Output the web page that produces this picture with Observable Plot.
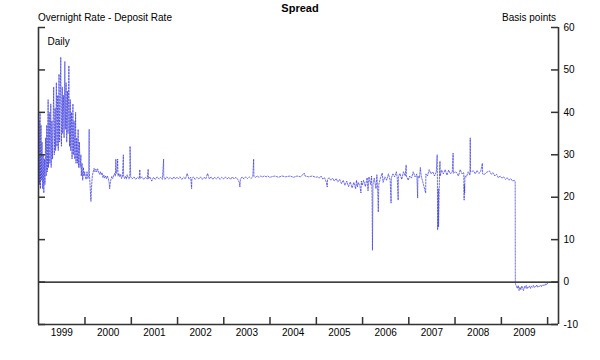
<!DOCTYPE html>
<html><head><meta charset="utf-8">
<script src="https://cdn.jsdelivr.net/npm/d3@7"></script>
<script src="https://cdn.jsdelivr.net/npm/@observablehq/plot@0.6"></script>
<style>
body{margin:0;background:#fff;font-family:"Liberation Sans",Arial,sans-serif;}
#wrap{position:relative;width:600px;height:360px;}
.t{position:absolute;white-space:nowrap;color:#000;line-height:12px;}
</style></head><body>
<div id="wrap">
<div id="chart"></div>
<div class="t" style="left:0;width:600px;top:2px;text-align:center;font-weight:bold;font-size:11px">Spread</div>
<div class="t" style="left:38px;top:12px;font-size:10px">Overnight Rate - Deposit Rate</div>
<div class="t" style="right:44px;top:12px;font-size:10px">Basis points</div>
</div>
<script>
// Overnight rate minus deposit rate, basis points
const y1999 = [
["1999-01-04",38],["1999-01-07",23],["1999-01-11",40],["1999-01-14",22],["1999-01-19",37],["1999-01-22",24],
["1999-01-27",33],["1999-02-01",22],["1999-02-05",30],["1999-02-10",21],["1999-02-15",29],["1999-02-19",23],
["1999-02-24",34],["1999-03-01",25],["1999-03-05",37],["1999-03-10",26],["1999-03-16",43],["1999-03-19",27],
["1999-03-25",40],["1999-03-30",28],["1999-04-06",42],["1999-04-09",27],["1999-04-15",38],["1999-04-20",29],
["1999-04-29",46],["1999-05-04",30],["1999-05-10",41],["1999-05-14",31],["1999-05-20",47],["1999-05-25",32],
["1999-05-31",44],["1999-06-04",31],["1999-06-10",49],["1999-06-15",33],["1999-06-24",53],["1999-06-29",32],
["1999-07-06",46],["1999-07-09",35],["1999-07-15",44],["1999-07-20",34],["1999-07-26",52],["1999-07-30",36],
["1999-08-05",47],["1999-08-10",33],["1999-08-16",45],["1999-08-20",35],["1999-08-27",51],["1999-09-01",32],
["1999-09-07",43],["1999-09-10",31],["1999-09-16",40],["1999-09-21",29],["1999-09-28",42],["1999-10-01",30],
["1999-10-07",38],["1999-10-13",29],["1999-10-19",40],["1999-10-22",28],["1999-10-28",34],["1999-11-02",28],
["1999-11-08",36],["1999-11-12",27],["1999-11-18",33],["1999-11-23",27],["1999-11-30",30],["1999-12-03",25],
["1999-12-09",28],["1999-12-14",24],["1999-12-20",27],["1999-12-24",25],["1999-12-30",26]];
const y2000 = [
["2000-01-03",25],["2000-01-10",24.2],["2000-01-17",26],["2000-01-24",24.4],["2000-01-31",25],["2000-02-03",36],
["2000-02-04",26],["2000-02-10",23],["2000-02-17",19],["2000-02-21",22],["2000-02-28",25],["2000-03-06",26],
["2000-03-13",26.8],["2000-03-20",26],["2000-03-27",26.6],["2000-04-03",26],["2000-04-10",26.7],["2000-04-17",26],
["2000-04-24",25.4],["2000-05-01",26],["2000-05-08",25.3],["2000-05-15",25.8],["2000-05-22",24.6],["2000-05-29",25.2],
["2000-06-05",24.5],["2000-06-12",25],["2000-06-19",24.4],["2000-06-26",25],["2000-07-03",24.4],["2000-07-10",23.4],
["2000-07-14",22],["2000-07-18",23.2],["2000-07-24",24.2],["2000-07-31",24.9],["2000-08-07",24.4],["2000-08-14",25],
["2000-08-21",25.6],["2000-08-28",25],["2000-09-01",29],["2000-09-04",25.6],["2000-09-11",26.4],["2000-09-15",29],
["2000-09-18",25],["2000-09-25",25.6],["2000-10-02",24.8],["2000-10-09",25.4],["2000-10-16",24.4],["2000-10-23",25],
["2000-10-30",30],["2000-11-01",25],["2000-11-08",24.4],["2000-11-15",24.9],["2000-11-22",24.3],["2000-11-29",25.3],
["2000-12-06",24.7],["2000-12-13",24.3],["2000-12-20",24.9],["2000-12-22",32],["2000-12-27",24.8]];
const y2001 = [
["2001-01-08",24.3],["2001-01-22",24.8],["2001-02-05",24.2],["2001-02-19",24.7],["2001-03-05",24.3],["2001-03-09",26.5],
["2001-03-12",24.4],["2001-03-26",24.8],["2001-04-09",24.2],["2001-04-23",24.7],["2001-05-07",24.3],["2001-05-14",26.6],
["2001-05-16",24.3],["2001-05-28",24.8],["2001-06-11",23.8],["2001-06-25",24.7],["2001-07-09",24.2],["2001-07-23",24.8],
["2001-08-06",24.3],["2001-08-20",24.7],["2001-09-03",24.2],["2001-09-13",29],["2001-09-14",24.8],["2001-09-24",24.2],
["2001-10-08",24.8],["2001-10-22",24.3],["2001-11-05",24.7],["2001-11-19",24.2],["2001-12-03",24.8],["2001-12-17",24.3],
["2001-12-27",24.7]];
const y2002 = [
["2002-01-07",24.3],["2002-01-21",24.8],["2002-02-04",24.2],["2002-02-18",24.7],["2002-03-04",24.3],["2002-03-18",25.6],
["2002-04-01",24.3],["2002-04-15",24.7],["2002-04-22",22],["2002-04-24",24.3],["2002-05-06",24.8],["2002-05-20",24.2],
["2002-06-03",24.7],["2002-06-17",24.3],["2002-07-01",24.8],["2002-07-15",24.2],["2002-07-29",24.7],["2002-08-12",24.3],
["2002-08-26",25.6],["2002-09-09",24.3],["2002-09-23",24.8],["2002-10-07",24.2],["2002-10-21",24.7],["2002-11-04",24.3],
["2002-11-18",24.8],["2002-12-02",24.2],["2002-12-16",24.7],["2002-12-30",24.3]];
const y2003 = [
["2003-01-13",24.8],["2003-01-27",24.3],["2003-02-10",24.7],["2003-02-24",24.2],["2003-03-10",24.8],["2003-03-24",24.3],
["2003-04-07",24.7],["2003-04-21",24.2],["2003-05-05",23.4],["2003-05-08",22.4],["2003-05-12",24.2],["2003-05-26",24.8],
["2003-06-09",24.3],["2003-06-23",24.8],["2003-07-07",24.4],["2003-07-21",24.8],["2003-08-04",24.4],["2003-08-18",24.8],
["2003-08-25",29],["2003-08-27",24.9],["2003-09-08",24.7],["2003-09-22",25],["2003-10-06",24.7],["2003-10-20",25],
["2003-11-03",24.8],["2003-11-17",25],["2003-12-01",24.8],["2003-12-15",25],["2003-12-29",24.7]];
const y2004 = [
["2004-01-12",24.8],["2004-02-09",25],["2004-03-08",24.7],["2004-04-05",25],["2004-05-03",24.8],["2004-06-07",25],
["2004-07-05",24.7],["2004-08-02",25],["2004-08-30",24.8],["2004-09-27",25.7],["2004-10-04",25],["2004-11-01",24.8],
["2004-11-29",25],["2004-12-27",24.7]];
const y2005 = [
["2005-01-10",24.8],["2005-01-24",24.5],["2005-02-07",25],["2005-02-21",24.3],["2005-03-07",24.6],["2005-03-21",23.5],
["2005-03-28",22.4],["2005-03-30",24.2],["2005-04-11",24.6],["2005-04-25",24],["2005-05-09",24.5],["2005-05-23",23.8],
["2005-06-06",24.4],["2005-06-20",23.6],["2005-07-04",24.2],["2005-07-18",23.2],["2005-08-01",24],["2005-08-15",22.8],
["2005-08-29",23.8],["2005-09-12",22.5],["2005-09-26",23.6],["2005-10-10",22.2],["2005-10-24",23.5],["2005-11-07",22],
["2005-11-14",24],["2005-11-21",22.4],["2005-11-28",23.5],["2005-12-12",22.5],["2005-12-19",21],["2005-12-22",23.8],
["2005-12-29",22.8]];
const y2006 = [
["2006-01-09",24],["2006-01-23",22.5],["2006-02-06",24.6],["2006-02-13",21.5],["2006-02-20",24.8],["2006-03-06",23],
["2006-03-13",25],["2006-03-17",20],["2006-03-20",7.5],["2006-03-22",15],["2006-03-24",23],["2006-04-03",24.5],
["2006-04-17",22],["2006-04-24",25.3],["2006-05-01",21],["2006-05-05",16.5],["2006-05-09",23],["2006-05-22",24.5],
["2006-06-05",25.7],["2006-06-12",23.5],["2006-06-26",24.8],["2006-07-10",24],["2006-07-24",25.5],["2006-08-07",24],
["2006-08-14",18.6],["2006-08-16",24.5],["2006-08-28",25.5],["2006-09-11",24.8],["2006-09-25",26],["2006-10-02",24.5],
["2006-10-09",19.3],["2006-10-11",24.8],["2006-10-23",25.6],["2006-11-06",24.2],["2006-11-20",26],["2006-12-04",25],
["2006-12-11",27.6],["2006-12-13",25],["2006-12-27",24]];
const y2007 = [
["2007-01-08",25],["2007-01-22",24.5],["2007-02-05",26],["2007-02-19",24.8],["2007-03-05",25.5],["2007-03-12",19.8],
["2007-03-14",25],["2007-03-26",24.5],["2007-04-02",27],["2007-04-09",25],["2007-05-14",21],["2007-05-16",25.5],
["2007-05-28",25],["2007-06-11",26.5],["2007-06-25",25.5],["2007-07-09",26],["2007-07-23",25],["2007-08-06",26],
["2007-08-13",30],["2007-08-15",24],["2007-08-16",14],["2007-08-17",12.3],["2007-08-20",16],["2007-08-22",22],
["2007-08-24",13],["2007-08-28",20],["2007-08-31",25],["2007-09-04",28.5],["2007-09-06",25],["2007-09-17",26.4],
["2007-10-01",25.5],["2007-10-15",26.5],["2007-10-29",25.2],["2007-11-12",26.4],["2007-11-26",25.5],["2007-12-10",26],
["2007-12-17",30.4],["2007-12-19",25.6],["2007-12-31",26]];
const y2008 = [
["2008-01-14",25.8],["2008-01-28",25],["2008-02-11",26.5],["2008-02-25",25.5],["2008-03-10",25.8],["2008-03-13",19.3],
["2008-03-14",23],["2008-03-17",21],["2008-03-19",25],["2008-03-31",24.8],["2008-04-14",26],["2008-04-28",25.2],
["2008-04-30",34],["2008-05-02",26],["2008-05-26",26.2],["2008-06-09",25.5],["2008-06-23",26.3],["2008-07-07",25.6],
["2008-07-21",26],["2008-08-04",28],["2008-08-06",25.5],["2008-08-18",25.3],["2008-09-01",25.8],["2008-09-29",26.2],
["2008-10-13",25.4],["2008-10-27",25.8],["2008-11-10",25],["2008-11-24",25.4],["2008-12-08",24.6],["2008-12-22",25]];
const y2009 = [
["2009-01-05",24.5],["2009-01-19",24.8],["2009-02-02",24.2],["2009-02-16",24.6],["2009-03-02",24],["2009-03-16",24.4],
["2009-03-30",23.8],["2009-04-13",24],["2009-04-20",23.6],["2009-04-21",0],["2009-04-23",-0.5],["2009-04-30",-1],
["2009-05-07",-1.5],["2009-05-14",-0.8],["2009-05-21",-2],["2009-05-28",-1.2],["2009-06-04",-1.8],["2009-06-11",-0.9],
["2009-06-18",-1.5],["2009-06-25",-2],["2009-07-02",-1],["2009-07-09",-1.4],["2009-07-16",-0.8],["2009-07-23",-1.6],
["2009-07-30",-1.1],["2009-08-06",-1.3],["2009-08-13",-0.9],["2009-08-20",-1.5],["2009-08-27",-1],["2009-09-03",-1.2],
["2009-09-10",-0.8],["2009-09-17",-1.3],["2009-09-24",-1],["2009-10-01",-1.1],["2009-10-08",-0.7],["2009-10-15",-1.2],
["2009-10-22",-0.9],["2009-10-29",-1],["2009-11-05",-0.8],["2009-11-12",-1.1],["2009-11-19",-0.7],["2009-11-26",-0.9],
["2009-12-03",-0.6],["2009-12-10",-0.8],["2009-12-17",-0.4],["2009-12-24",-0.6],["2009-12-31",-0.3]];

const yTicks = [-10, 0, 10, 20, 30, 40, 50, 60];
const yearStarts = ["2000","2001","2002","2003","2004","2005","2006","2007","2008","2009","2010"];
const yearLabels = ["1999","2000","2001","2002","2003","2004","2005","2006","2007","2008","2009"];
const xDomain = ["1998-12-30", "2010-03-28"];

const series = [...y1999, ...y2000, ...y2001, ...y2002, ...y2003, ...y2004, ...y2005, ...y2006, ...y2007, ...y2008, ...y2009]
  .map(([d, v]) => ({date: new Date(d), value: v}));

const W = 600, H = 360, mL = 38, mR = 42, mT = 27, mB = 36;
const pw = W - mL - mR, ph = H - mT - mB;
const axisColor = "#333";

const chart = Plot.plot({
  width: W, height: H,
  marginLeft: mL, marginRight: mR, marginTop: mT, marginBottom: mB,
  style: {fontFamily: "'Liberation Sans', Arial, sans-serif", fontSize: "10px", color: "#000", background: "#fff"},
  x: {type: "utc", domain: xDomain.map(d => new Date(d)), label: null},
  y: {domain: [-10, 60], label: null},
  marks: [
    Plot.ruleY([0], {stroke: "#000", strokeWidth: 1.2}),
    Plot.line(series, {x: "date", y: "value", stroke: "#3333dd", strokeWidth: 0.7, strokeDasharray: "1.6,1.4"}),
    Plot.ruleX(xDomain.map(d => new Date(d)), {stroke: axisColor, strokeWidth: 1.6}),
    Plot.ruleY([-10], {stroke: axisColor, strokeWidth: 1.6}),
    Plot.tickY(yTicks, {y: d => d, insetLeft: pw - 7, stroke: axisColor, strokeWidth: 1.5}),
    Plot.tickY(yTicks, {y: d => d, insetRight: pw - 7, stroke: axisColor, strokeWidth: 1.5}),
    Plot.tickX(yearStarts, {x: d => new Date(d + "-01-01"), insetTop: ph - 7, stroke: axisColor, strokeWidth: 1.5}),
    Plot.axisY(yTicks, {anchor: "right", tickSize: 0, tickPadding: 5, label: null, tickFormat: d => String(d)}),
    Plot.axisX(yearLabels.map(y => new Date(y + "-07-02")), {tickSize: 0, tickPadding: 4, label: null, tickFormat: d => String(d.getUTCFullYear())}),
    Plot.text(["Daily"], {text: d => d, frameAnchor: "top-left", dx: 9, dy: 10, textAnchor: "start"})
  ]
});
document.getElementById("chart").appendChild(chart);
</script>
</body></html>
